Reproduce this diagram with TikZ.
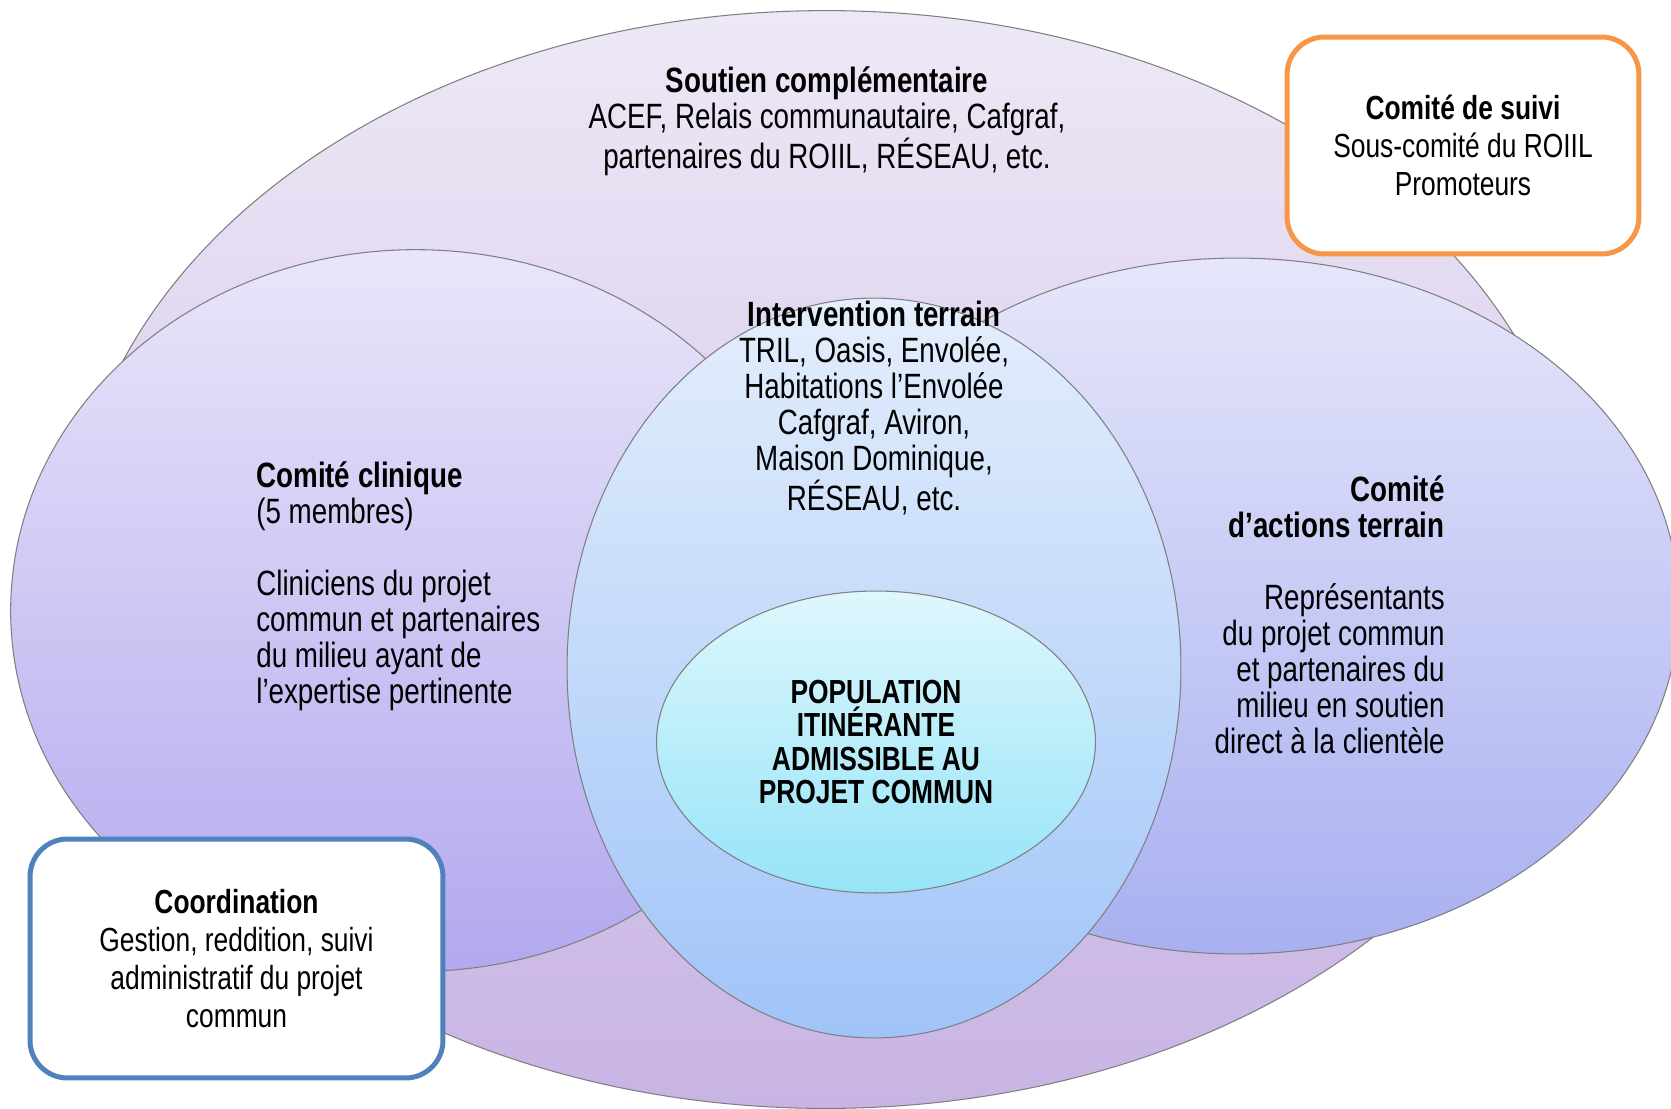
\documentclass[tikz,border=0pt]{standalone}
\usepackage{fontspec}
\setmainfont{Liberation Sans}[FakeStretch=0.79]
\usetikzlibrary{shapes.geometric}
\definecolor{edgegrey}{HTML}{7F7F7F}
\definecolor{orangebox}{HTML}{F79646}
\definecolor{bluebox}{HTML}{4F81BD}
\definecolor{outerT}{RGB}{237,232,246}
\definecolor{outerB}{RGB}{200,180,228}
\definecolor{leftT}{RGB}{233,230,250}
\definecolor{leftB}{RGB}{178,168,238}
\definecolor{rightT}{RGB}{230,230,250}
\definecolor{rightB}{RGB}{168,176,240}
\definecolor{midT}{RGB}{228,238,252}
\definecolor{midB}{RGB}{160,196,248}
\definecolor{innT}{RGB}{222,247,252}
\definecolor{innB}{RGB}{150,228,248}
\tikzset{
  blob/.style={ellipse, draw=edgegrey, line width=0.6pt, inner sep=0pt, outer sep=0pt},
  txt/.style={inner sep=0pt, font=\fontsize{20pt}{20.5pt}\selectfont},
  boxstyle/.style={rectangle, rounded corners=0.75cm, fill=white, line width=0.1cm,
    align=center, inner sep=0pt, font=\fontsize{19pt}{21.7pt}\selectfont}
}
\begin{document}
\begin{tikzpicture}[x=0.02cm, y=-0.02cm]
\useasboundingbox (0,0) rectangle (1671,1109);
\fill[white] (0,0) rectangle (1671,1109);
% ellipses
\node[blob, minimum width=30.16cm, minimum height=21.96cm, top color=outerT, bottom color=outerB] (outer) at (826,559.5) {};
\node[blob, minimum width=16.2cm, minimum height=14.44cm, top color=leftT, bottom color=leftB] (clin) at (415.6,610.6) {};
\node[blob, minimum width=17.68cm, minimum height=13.92cm, top color=rightT, bottom color=rightB] (act) at (1237,606) {};
\node[blob, minimum width=12.28cm, minimum height=14.8cm, top color=midT, bottom color=midB] (mid) at (874,668) {};
\node[blob, minimum width=8.78cm, minimum height=6.04cm, top color=innT, bottom color=innB] (inner) at (876,742) {};
% texts
\node[txt, align=center] (tsoutien) at (827,121) {\textbf{Soutien complémentaire}\\ACEF, Relais communautaire, Cafgraf,\\partenaires du ROIIL, RÉSEAU, etc.};
\node[txt, align=center] (tinter) at (874,408) {\textbf{Intervention terrain}\\TRIL, Oasis, Envolée,\\Habitations l’Envolée\\Cafgraf, Aviron,\\Maison Dominique,\\RÉSEAU, etc.};
\node[txt, align=left, anchor=west] (tclin) at (256,586) {\textbf{Comité clinique}\\(5 membres)\\[20.5pt]Cliniciens du projet\\commun et partenaires\\du milieu ayant de\\l’expertise pertinente};
\node[txt, align=right, anchor=east] (tact) at (1445,615) {\textbf{Comité}\\\textbf{d’actions terrain}\\[20.5pt]Représentants\\du projet commun\\et partenaires du\\milieu en soutien\\direct à la clientèle};
\node[txt, align=center, font=\fontsize{19pt}{18.8pt}\selectfont\bfseries] (tpop) at (876,742) {POPULATION\\ITINÉRANTE\\ADMISSIBLE AU\\PROJET COMMUN};
% boxes
\node[boxstyle, draw=orangebox, minimum width=7.04cm, minimum height=4.34cm] (suivi) at (1463,145.5) {\textbf{Comité de suivi}\\Sous-comité du ROIIL\\Promoteurs};
\node[boxstyle, draw=bluebox, minimum width=8.26cm, minimum height=4.78cm] (coord) at (236.5,958.5) {\textbf{Coordination}\\Gestion, reddition, suivi\\administratif du projet\\commun};
\end{tikzpicture}
\end{document}
